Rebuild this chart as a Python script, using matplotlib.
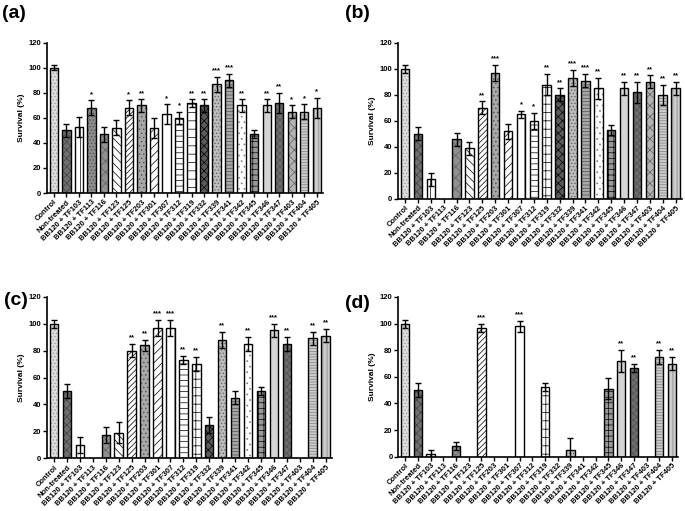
import numpy as np
import matplotlib
matplotlib.use("Agg")
import matplotlib.pyplot as plt

plt.rcParams['font.family'] = ['Liberation Sans', 'DejaVu Sans']
plt.rcParams['font.weight'] = 'bold'
plt.rcParams['hatch.linewidth'] = 0.5

categories = ['Control', 'Non-treated', 'BB120 + TF103', 'BB120 + TF113', 'BB120 + TF116',
              'BB120 + TF123', 'BB120 + TF125', 'BB120 + TF203', 'BB120 + TF301', 'BB120 + TF307',
              'BB120 + TF312', 'BB120 + TF319', 'BB120 + TF332', 'BB120 + TF339', 'BB120 + TF341',
              'BB120 + TF342', 'BB120 + TF345', 'BB120 + TF346', 'BB120 + TF347', 'BB120 + TF403',
              'BB120 + TF404', 'BB120 + TF405']

vals_a = [100, 50, 53, 68, 47, 52, 68, 70, 52, 63, 60, 72, 70, 87, 90, 70, 47, 70, 72, 65, 65, 68]
errs_a = [2, 5, 8, 6, 6, 6, 6, 5, 8, 8, 5, 3, 5, 6, 5, 5, 3, 5, 8, 5, 6, 8]
stars_a = ['', '', '', '*', '', '', '*', '**', '', '*', '*', '**', '**', '***', '***', '**', '',
           '**', '**', '*', '*', '*']

vals_b = [100, 50, 15, 0, 46, 39, 70, 97, 52, 65, 60, 88, 80, 93, 91, 85, 53, 85, 82, 90, 80, 85]
errs_b = [3, 5, 5, 0, 5, 5, 5, 6, 6, 3, 6, 8, 5, 6, 5, 8, 4, 5, 8, 5, 8, 5]
stars_b = ['', '', '', '', '', '', '**', '***', '', '*', '*', '**', '**', '***', '***', '**', '',
           '**', '**', '**', '**', '**']

vals_c = [100, 50, 10, 0, 17, 19, 80, 84, 97, 97, 73, 70, 25, 88, 45, 85, 50, 95, 85, 0, 89, 91]
errs_c = [3, 5, 6, 0, 6, 8, 5, 4, 6, 6, 3, 5, 6, 6, 5, 5, 3, 5, 5, 0, 5, 5]
stars_c = ['', '', '', '', '', '', '**', '**', '***', '***', '**', '**', '', '**', '', '**', '',
           '***', '**', '', '**', '**']

vals_d = [100, 50, 2, 0, 8, 0, 97, 0, 0, 98, 0, 52, 0, 5, 0, 0, 51, 72, 67, 0, 75, 70]
errs_d = [3, 5, 3, 0, 3, 0, 3, 0, 0, 4, 0, 3, 0, 9, 0, 0, 8, 8, 3, 0, 5, 5]
stars_d = ['', '', '', '', '', '', '***', '', '', '***', '', '', '', '', '', '', '',
           '**', '**', '', '**', '**']

# (facecolor, hatch, hatch colour) per category
styles = [
    ('#dcdcdc', '.....', '#999999'),
    ('#707070', 'xxxx', '#404040'),
    ('white', '|||', 'black'),
    ('#8c8c8c', '.....', '#505050'),
    ('#909090', 'xxx', '#606060'),
    ('white', '\\\\\\\\', 'black'),
    ('white', '//////', 'black'),
    ('#a8a8a8', '....', '#505050'),
    ('white', '////', 'black'),
    ('white', '|', 'black'),
    ('white', '---', 'black'),
    ('white', '++', 'black'),
    ('#5a5a5a', 'xxxx', 'black'),
    ('#bcbcbc', '.....', '#606060'),
    ('#a8a8a8', '-----', '#505050'),
    ('white', '...', '#808080'),
    ('#999999', '+++', 'black'),
    ('#d4d4d4', '', '#d4d4d4'),
    ('#6e6e6e', 'xxxxx', '#505050'),
    ('#b4b4b4', 'xxx', '#606060'),
    ('#cccccc', '------', '#808080'),
    ('#cccccc', '||||', '#808080'),
]


def draw_panel(ax, vals, errs, stars, label, lx, ly):
    x = np.arange(len(categories))
    for i in range(len(categories)):
        fc, h, hc = styles[i]
        if vals[i] <= 0:
            continue
        ax.bar(x[i], vals[i], width=0.66, color=fc, hatch=h, edgecolor=hc, linewidth=0)
        ax.bar(x[i], vals[i], width=0.66, fill=False, edgecolor='black', linewidth=1.0)
        if errs[i] > 0:
            ax.errorbar(x[i], vals[i], yerr=errs[i], fmt='none', ecolor='black',
                        elinewidth=1.0, capsize=2, capthick=1.0)
        if stars[i]:
            ax.text(x[i], vals[i] + errs[i] + 2, stars[i], ha='center', va='bottom',
                    fontsize=5.5, fontweight='bold')
    ax.set_xlim(-0.55, len(categories) - 0.5)
    ax.set_ylim(0, 120)
    ax.set_yticks([0, 20, 40, 60, 80, 100, 120])
    ax.set_xticks(x)
    ax.set_xticklabels(categories, rotation=45, ha='right', rotation_mode='anchor',
                       fontsize=5.5, fontweight='bold')
    ax.tick_params(axis='y', labelsize=5.5, length=3, width=1.0, pad=1)
    ax.tick_params(axis='x', length=3, width=1.0, pad=1)
    ax.spines['top'].set_visible(False)
    ax.spines['right'].set_visible(False)
    ax.spines['left'].set_linewidth(1.2)
    ax.spines['bottom'].set_linewidth(1.2)
    ax.set_ylabel('Survival (%)', fontsize=6, fontweight='bold', labelpad=3)
    fig.text(lx, ly, label, fontsize=14, fontweight='bold', ha='left', va='center')


fig = plt.figure(figsize=(6.85, 5.11), dpi=100)
ax_a = fig.add_axes([0.0686, 0.6223, 0.4029, 0.2936])
ax_b = fig.add_axes([0.5810, 0.6106, 0.4146, 0.3053])
ax_c = fig.add_axes([0.0686, 0.1031, 0.4161, 0.3163])
ax_d = fig.add_axes([0.5814, 0.1063, 0.4088, 0.3125])

draw_panel(ax_a, vals_a, errs_a, stars_a, '(a)', 0.003, 0.973)
draw_panel(ax_b, vals_b, errs_b, stars_b, '(b)', 0.503, 0.973)
draw_panel(ax_c, vals_c, errs_c, stars_c, '(c)', 0.006, 0.412)
draw_panel(ax_d, vals_d, errs_d, stars_d, '(d)', 0.503, 0.407)

fig.savefig('out.png', dpi=100)
